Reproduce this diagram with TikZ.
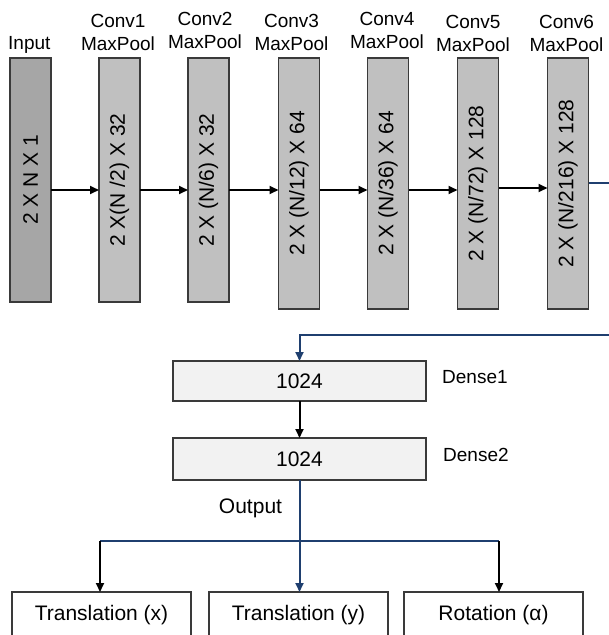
\documentclass[tikz,border=0pt]{standalone}
\usepackage{fontspec}
\setmainfont{Liberation Sans}
\usetikzlibrary{arrows.meta}
\definecolor{navy}{HTML}{1F3F6F}
\definecolor{bord}{HTML}{3A3A3A}
\definecolor{ingray}{HTML}{A6A6A6}
\definecolor{convgray}{HTML}{C0C0C0}
\definecolor{densegray}{HTML}{F2F2F2}
\tikzset{
  base/.style={draw=bord, line width=1.5pt, inner sep=0pt, outer sep=0pt},
  inbox/.style={base, fill=ingray, minimum width=41pt, minimum height=244pt, font=\fontsize{21}{25}\selectfont},
  convbox/.style={base, fill=convgray, minimum width=41pt, minimum height=244pt, font=\fontsize{21}{25}\selectfont},
  convtall/.style={convbox, minimum height=251pt},
  densebox/.style={base, fill=densegray, minimum width=253pt, font=\fontsize{21}{25}\selectfont},
  outbox/.style={base, fill=white, minimum width=179pt, minimum height=46pt, font=\fontsize{21}{25}\selectfont},
  lbl/.style={inner sep=0pt, align=center, font=\fontsize{19}{23}\selectfont},
  arr/.style={line width=2pt, black, -{Triangle[length=9pt,width=8pt]}},
  barr/.style={line width=2pt, navy, -{Triangle[length=9pt,width=8pt]}},
  bline/.style={line width=2pt, navy},
}
\begin{document}
\begin{tikzpicture}[x=1pt,y=-1pt]
\clip (0,0) rectangle (609,635);
\fill[white] (0,0) rectangle (609,635);
% top row
\node[inbox]    (in) at (30.5,180)  {\rotatebox{90}{2 X N X 1}};
\node[convbox]  (c1) at (119.5,180) {\rotatebox{90}{2 X(N /2) X 32}};
\node[convbox]  (c2) at (208.5,180) {\rotatebox{90}{2 X (N/6) X 32}};
\node[convtall] (c3) at (299,183.5) {\rotatebox{90}{2 X (N/12) X 64}};
\node[convtall] (c4) at (388,183.5) {\rotatebox{90}{2 X (N/36) X 64}};
\node[convtall] (c5) at (478,183.5) {\rotatebox{90}{2 X (N/72) X 128}};
\node[convtall] (c6) at (568,183.5) {\rotatebox{90}{2 X (N/216) X 128}};
% labels
\node[lbl, anchor=west] (lin) at (8,45) {Input};
\node[lbl] (l1) at (118,32)   {Conv1\\MaxPool};
\node[lbl] (l2) at (205,30)   {Conv2\\MaxPool};
\node[lbl] (l3) at (291.5,32) {Conv3\\MaxPool};
\node[lbl] (l4) at (387,30)   {Conv4\\MaxPool};
\node[lbl] (l5) at (473,33)   {Conv5\\MaxPool};
\node[lbl] (l6) at (566.5,33) {Conv6\\MaxPool};
% row arrows
\coordinate (r1) at (0,190);
\coordinate (r2) at (0,188);
\coordinate (r3) at (0,183);
\draw[arr] (in.east |- r1) -- (c1.west |- r1);
\draw[arr] (c1.east |- r1) -- (c2.west |- r1);
\draw[arr] (c2.east |- r1) -- (c3.west |- r1);
\draw[arr] (c3.east |- r1) -- (c4.west |- r1);
\draw[arr] (c4.east |- r1) -- (c5.west |- r1);
\draw[arr] (c5.east |- r2) -- (c6.west |- r2);
\coordinate (outR) at (609,183);
\draw[bline] (c6.east |- r3) -- (outR);
% dense layers
\node[densebox, minimum height=40pt] (d1) at (299.5,381) {1024};
\node[densebox, minimum height=42pt] (d2) at (299.5,459) {1024};
\node[lbl, anchor=west] (ld1) at (442,377) {Dense1};
\node[lbl, anchor=west] (ld2) at (443,455) {Dense2};
\coordinate (inR) at (609,335);
\draw[barr] (inR) -- (d1.north |- inR) -- (d1.north);
\draw[arr] (d1.south) -- (d2.north);
\node[lbl, font=\fontsize{21}{25}\selectfont] (lout) at (250.5,508) {Output};
% outputs
\node[outbox] (tx) at (101.5,615) {Translation (x)};
\node[outbox] (ty) at (298.5,615) {Translation (y)};
\node[outbox] (rot) at (493.5,615) {Rotation (α)};
\coordinate (bl) at (100,541);
\coordinate (brr) at (499,541);
\draw[bline] (bl) -- (brr);
\draw[barr] (d2.south) -- (d2.south |- ty.north);
\draw[arr] (bl) -- (bl |- tx.north);
\draw[arr] (brr) -- (brr |- rot.north);
\end{tikzpicture}
\end{document}
